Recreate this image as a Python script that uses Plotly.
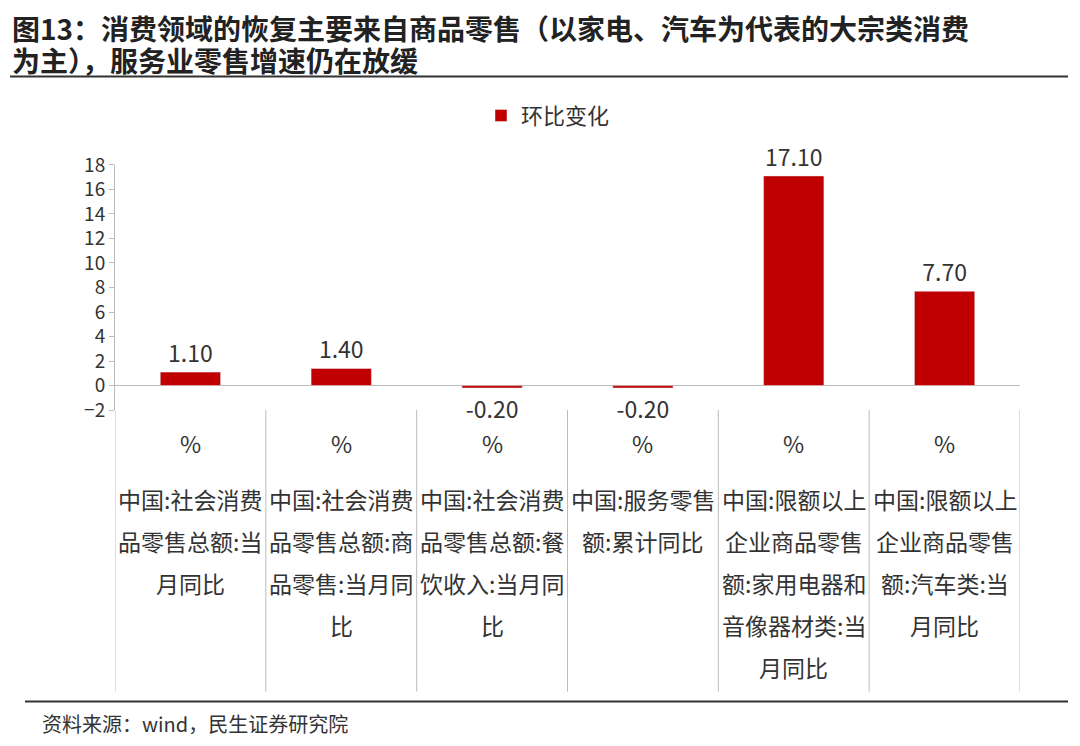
import plotly.graph_objects as go

categories = ["c1", "c2", "c3", "c4", "c5", "c6"]
values = [1.10, 1.40, -0.20, -0.20, 17.10, 7.70]
label_lines = [
    ["中国:社会消费", "品零售总额:当", "月同比"],
    ["中国:社会消费", "品零售总额:商", "品零售:当月同", "比"],
    ["中国:社会消费", "品零售总额:餐", "饮收入:当月同", "比"],
    ["中国:服务零售", "额:累计同比"],
    ["中国:限额以上", "企业商品零售", "额:家用电器和", "音像器材类:当", "月同比"],
    ["中国:限额以上", "企业商品零售", "额:汽车类:当", "月同比"],
]
yticks = [-2, 0, 2, 4, 6, 8, 10, 12, 14, 16, 18]

W, H = 1080, 746
def py(p):
    q = (p - 24.8) / 0.959
    return 1 - q / H
def px(p): return (p - 8) / W

FONT = "Noto Sans CJK SC"
fig = go.Figure(go.Bar(
    x=list(range(6)), y=values, width=0.4, marker_color="#C00000", name="环比变化",
    text=[f"{v:.2f}" for v in values], textposition="outside",
    textfont=dict(size=23, color="#333"), cliponaxis=False, showlegend=True))

annos = []
for i, lines in enumerate(label_lines):
    annos.append(dict(x=i, y=py(443), xref="x", yref="paper", text="%", showarrow=False,
                      font=dict(size=23, color="#333"), yanchor="middle"))
    for j, t in enumerate(lines):
        annos.append(dict(x=i, y=py(498 + 42 * j), xref="x", yref="paper", text=t, showarrow=False,
                          font=dict(size=23, color="#333"), yanchor="middle"))
annos.append(dict(x=px(10), y=py(30), xref="paper", yref="paper", xanchor="left", yanchor="middle",
                  text="<b>图13：消费领域的恢复主要来自商品零售（以家电、汽车为代表的大宗类消费</b>",
                  showarrow=False, font=dict(size=28, color="#222")))
annos.append(dict(x=px(10), y=py(62), xref="paper", yref="paper", xanchor="left", yanchor="middle",
                  text="<b>为主），服务业零售增速仍在放缓</b>", showarrow=False, font=dict(size=28, color="#222")))
annos.append(dict(x=px(40), y=py(722), xref="paper", yref="paper", xanchor="left", yanchor="middle",
                  text="资料来源：wind，民生证券研究院", showarrow=False, font=dict(size=20, color="#333")))

shapes = [dict(type="line", xref="x", yref="paper", x0=i - 0.5, x1=i - 0.5, y0=py(410), y1=py(690),
               line=dict(color="#BBBBBB", width=1)) for i in range(7)]
shapes.append(dict(type="line", xref="paper", yref="paper", x0=px(10), x1=px(1068), y0=py(78), y1=py(78),
                   line=dict(color="#333", width=2)))
shapes.append(dict(type="line", xref="paper", yref="paper", x0=px(25), x1=px(1068), y0=py(700), y1=py(700),
                   line=dict(color="#333", width=2)))

fig.update_layout(
    width=W, height=H, margin=dict(l=0, r=0, t=0, b=0), plot_bgcolor="white", paper_bgcolor="white",
    font=dict(family=FONT, color="#333"),
    xaxis=dict(domain=[px(115), px(1020)], range=[-0.5, 5.5], showticklabels=False, showgrid=False,
               zeroline=False, anchor="y"),
    yaxis=dict(domain=[py(410), py(166)], range=[-2, 18], tickvals=yticks, showgrid=False,
               zeroline=True, zerolinecolor="#BBBBBB", zerolinewidth=1,
               showline=True, linecolor="#BBBBBB", ticks="outside", tickcolor="#BBBBBB", ticklen=5,
               tickfont=dict(size=19, color="#333")),
    legend=dict(x=0.5, xanchor="center", y=py(117), yanchor="middle", orientation="h",
                font=dict(size=22, color="#333")),
    annotations=annos, shapes=shapes, bargap=0.6)
fig.write_html("out.html")
